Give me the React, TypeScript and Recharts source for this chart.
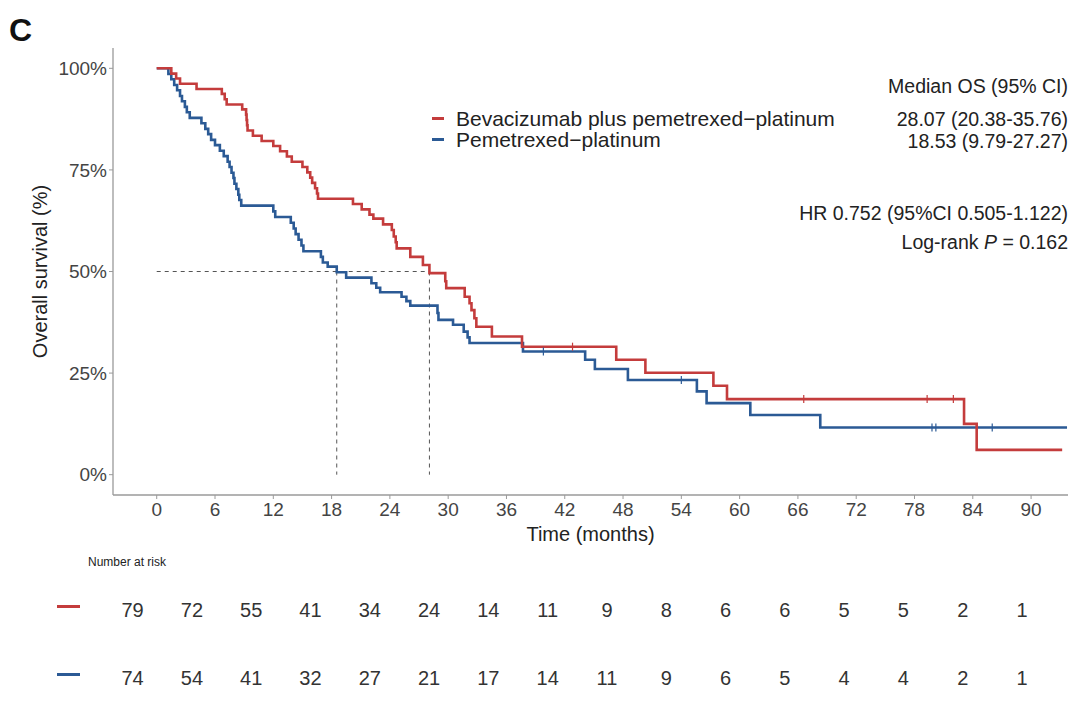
import React from 'react';
import {
  ComposedChart,
  Line,
  XAxis,
  YAxis,
  Scatter,
  ScatterChart,
  ReferenceLine,
} from 'recharts';

const FONT = '"Liberation Sans", Arial, Helvetica, sans-serif';
const RED = '#C43C3C';
const BLUE = '#2B5A95';
const AXIS = '#9a9a9a';

// ---- data ----
const xTicks = [0, 6, 12, 18, 24, 30, 36, 42, 48, 54, 60, 66, 72, 78, 84, 90];
const yTicks = [0, 25, 50, 75, 100];

const seriesNames = ['Bevacizumab plus pemetrexed\u2212platinum', 'Pemetrexed\u2212platinum'];
const seriesColors = [RED, BLUE];

const redKM: [number, number][] = [
  [0, 100], [1.5, 98.7], [2.0, 97.5], [2.4, 96.2], [4.1, 94.9], [6.7, 93.7], [7.0, 92.4],
  [7.2, 91.1], [8.8, 89.9], [9.2, 88.6], [9.25, 87.3], [9.3, 86.0], [9.35, 84.7], [9.9, 83.4],
  [10.8, 82.1], [12.0, 80.9], [12.7, 79.6], [13.4, 78.3], [13.9, 77.0], [15.0, 75.7],
  [15.5, 74.4], [15.8, 73.1], [16.0, 71.8], [16.3, 70.5], [16.5, 69.2], [16.6, 67.9],
  [20.2, 66.6], [21.1, 65.3], [21.9, 64.0], [22.3, 63.0], [23.3, 61.6], [24.2, 60.2],
  [24.4, 58.6], [24.6, 57.2], [24.7, 55.7], [26.1, 53.6], [27.4, 51.6], [28.07, 49.6],
  [29.7, 47.6], [29.8, 45.9], [31.7, 43.8], [32.2, 42.2], [32.4, 40.5], [32.7, 38.5],
  [32.9, 36.4], [34.5, 34.0], [37.6, 31.5], [47.3, 28.3], [50.3, 25.1], [57.3, 21.9],
  [58.7, 18.6], [83.1, 12.5], [84.4, 6.1], [93.2, 6.1],
];

const blueKM: [number, number][] = [
  [0, 100], [1.2, 98.6], [1.5, 97.3], [1.8, 95.9], [2.1, 94.6], [2.4, 93.2], [2.6, 91.9],
  [2.9, 90.5], [3.1, 89.2], [3.4, 87.8], [4.6, 86.5], [5.0, 85.1], [5.3, 83.8], [5.6, 82.4],
  [6.0, 81.1], [6.5, 79.7], [6.9, 78.4], [7.3, 77.0], [7.5, 75.7], [7.7, 74.3], [7.9, 73.0],
  [8.0, 71.6], [8.2, 70.3], [8.4, 68.9], [8.5, 67.6], [8.7, 66.2], [12.0, 64.8], [12.2, 63.4],
  [13.8, 62.0], [14.1, 60.6], [14.3, 59.2], [14.6, 57.8], [14.9, 56.4], [15.1, 55.0],
  [16.9, 53.6], [17.1, 52.2], [17.6, 51.2], [18.53, 49.8], [19.5, 48.5], [22.1, 47.1],
  [22.6, 46.0], [23.0, 44.9], [25.2, 43.8], [25.7, 42.7], [26.1, 41.6], [28.9, 39.8],
  [29.0, 38.1], [30.5, 36.9], [31.6, 35.2], [32.0, 33.8], [32.2, 32.4], [37.7, 30.3],
  [44.1, 28.3], [45.1, 26.0], [48.5, 23.3], [55.6, 20.5], [56.6, 17.6], [61.1, 14.7],
  [68.3, 11.6], [93.7, 11.6],
];

const redCensor: [number, number][] = [[42.8, 31.5], [66.6, 18.6], [79.3, 18.6], [82.0, 18.6]];
const blueCensor: [number, number][] = [[39.8, 30.3], [54.0, 23.3], [79.8, 11.6], [80.2, 11.6], [86.0, 11.6]];

const medianTimes = [28.07, 18.53];
const medianLevel = 50;

const riskTimes = xTicks;
const redRisk = [79, 72, 55, 41, 34, 24, 14, 11, 9, 8, 6, 6, 5, 5, 2, 1];
const blueRisk = [74, 54, 41, 32, 27, 21, 17, 14, 11, 9, 6, 5, 4, 4, 2, 1];

const medianTexts = ['28.07 (20.38-35.76)', '18.53 (9.79-27.27)'];

// ---- helpers ----
const toPts = (arr: [number, number][]) => arr.map(([t, s]) => ({ t, s }));

const CensorMark = (props: any) => {
  const { cx, cy, fill } = props;
  if (cx == null || cy == null) return null;
  return <line x1={cx} x2={cx} y1={cy - 4} y2={cy + 4} stroke={fill} strokeWidth={1.2} />;
};

const RiskText = (props: any) => {
  const { cx, cy, payload } = props;
  if (cx == null || cy == null) return null;
  return (
    <text x={cx} y={cy} textAnchor="middle" dominantBaseline="central" fontSize={20} fill="#333" fontFamily={FONT}>
      {payload.n}
    </text>
  );
};

const LegendBox = () => (
  <div style={{ position: 'absolute', left: 432, top: 108, fontFamily: FONT, fontSize: 21, color: '#222', lineHeight: '21px' }}>
    {seriesNames.map((n, i) => (
      <div key={n} style={{ display: 'flex', alignItems: 'center', whiteSpace: 'nowrap' }}>
        <span style={{ display: 'inline-block', width: 12, height: 3, background: seriesColors[i], marginRight: 12 }} />
        <span>{n}</span>
      </div>
    ))}
  </div>
);

const rightText = (text: React.ReactNode, top: number) => (
  <div
    style={{
      position: 'absolute',
      right: 12,
      top,
      fontFamily: FONT,
      fontSize: 19.5,
      lineHeight: '22px',
      color: '#222',
      whiteSpace: 'nowrap',
      textAlign: 'right',
    }}
  >
    {text}
  </div>
);

export default function App() {
  const redPts = toPts(redKM);
  const bluePts = toPts(blueKM);
  const redRows = riskTimes.map((t, i) => ({ t, row: 1, n: redRisk[i] }));
  const blueRows = riskTimes.map((t, i) => ({ t, row: 0, n: blueRisk[i] }));

  return (
    <div style={{ position: 'absolute', left: 0, top: 0, width: 1080, height: 710, background: '#fff', overflow: 'hidden' }}>
      <div style={{ position: 'absolute', left: 9, top: 12, fontFamily: FONT, fontSize: 32, fontWeight: 'bold', color: '#111', lineHeight: '36px' }}>
        C
      </div>

      <div style={{ position: 'absolute', left: 0, top: 0 }}>
        <ComposedChart width={1080} height={560} margin={{ top: 48, right: 12, left: 0, bottom: 5 }}>
          <XAxis
            dataKey="t"
            type="number"
            domain={[-4.5, 93.8]}
            ticks={xTicks}
            allowDataOverflow
            height={60}
            tickSize={4}
            tickMargin={4}
            axisLine={{ stroke: AXIS, strokeWidth: 1.3 }}
            tickLine={{ stroke: AXIS }}
            tick={{ fontSize: 19, fill: '#444', fontFamily: FONT }}
            label={{ value: 'Time (months)', position: 'insideBottom', offset: 14, style: { fontSize: 20, fill: '#222', fontFamily: FONT } }}
          />
          <YAxis
            dataKey="s"
            type="number"
            domain={[-5, 105]}
            ticks={yTicks}
            allowDataOverflow
            width={113}
            tickSize={4}
            tickMargin={2}
            tickFormatter={(v: number) => `${v}%`}
            axisLine={{ stroke: AXIS, strokeWidth: 1.3 }}
            tickLine={{ stroke: AXIS }}
            tick={{ fontSize: 19, fill: '#444', fontFamily: FONT }}
            label={{ value: 'Overall survival (%)', angle: -90, position: 'insideLeft', offset: 40, style: { fontSize: 20, fill: '#222', fontFamily: FONT, textAnchor: 'middle' } }}
          />
          <ReferenceLine
            segment={[{ x: 0, y: medianLevel }, { x: medianTimes[0], y: medianLevel }]}
            stroke="#555"
            strokeDasharray="4 4"
            strokeWidth={1}
          />
          {medianTimes.map((m) => (
            <ReferenceLine
              key={m}
              segment={[{ x: m, y: medianLevel }, { x: m, y: 0 }]}
              stroke="#555"
              strokeDasharray="4 4"
              strokeWidth={1}
            />
          ))}
          <Line
            data={bluePts}
            dataKey="s"
            name={seriesNames[1]}
            type="stepAfter"
            stroke={BLUE}
            strokeWidth={2.6}
            dot={false}
            activeDot={false}
            isAnimationActive={false}
          />
          <Line
            data={redPts}
            dataKey="s"
            name={seriesNames[0]}
            type="stepAfter"
            stroke={RED}
            strokeWidth={2.6}
            dot={false}
            activeDot={false}
            isAnimationActive={false}
          />
          <Scatter data={toPts(redCensor)} fill={RED} shape={<CensorMark />} legendType="none" isAnimationActive={false} />
          <Scatter data={toPts(blueCensor)} fill={BLUE} shape={<CensorMark />} legendType="none" isAnimationActive={false} />
        </ComposedChart>
      </div>

      <LegendBox />

      {rightText('Median OS (95% CI)', 75)}
      {rightText(medianTexts[0], 108)}
      {rightText(medianTexts[1], 130)}
      {rightText('HR 0.752 (95%CI 0.505-1.122)', 202)}
      {rightText(<span>Log-rank <i>P</i> = 0.162</span>, 231)}

      <div style={{ position: 'absolute', left: 88, top: 555, fontFamily: FONT, fontSize: 12, color: '#222', lineHeight: '14px' }}>
        Number at risk
      </div>
      <div style={{ position: 'absolute', left: 57, top: 605, width: 23, height: 3, background: RED }} />
      <div style={{ position: 'absolute', left: 57, top: 673, width: 23, height: 3, background: BLUE }} />

      <div style={{ position: 'absolute', left: 0, top: 560 }}>
        <ScatterChart width={1080} height={150} margin={{ top: 50, right: 58, left: 132.6, bottom: 32 }}>
          <XAxis dataKey="t" type="number" domain={[0, 90]} hide />
          <YAxis dataKey="row" type="number" domain={[0, 1]} hide />
          <Scatter data={redRows} shape={<RiskText />} isAnimationActive={false} />
          <Scatter data={blueRows} shape={<RiskText />} isAnimationActive={false} />
        </ScatterChart>
      </div>
    </div>
  );
}
